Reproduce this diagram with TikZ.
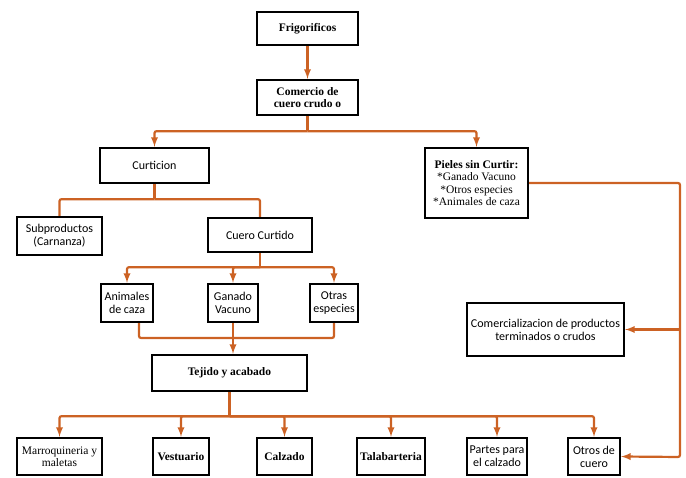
\documentclass[tikz,border=0pt]{standalone}
\usepackage{fontspec}
\setmainfont{Liberation Serif}
\newfontfamily\calfont{Carlito}
\usetikzlibrary{arrows}
\definecolor{flecha}{RGB}{204,98,36}

\begin{document}
\begin{tikzpicture}[x=1pt,y=-1pt,
    caja/.style={draw=black,line width=2.4pt,fill=white,align=center,inner sep=1pt,
      font=\fontsize{11.5}{12.5}\selectfont},
    cajab/.style={caja,font=\fontsize{11.5}{12.5}\selectfont\bfseries},
    cajas/.style={caja,font=\fontsize{12}{13}\selectfont\calfont},
    linea/.style={draw=flecha,line width=2.2pt,rounded corners=2pt},
    flec/.style={linea,-latex}]
          \useasboundingbox (0,0) rectangle (686,478);
          % cajas superiores
          \node[cajab,minimum width=101,minimum height=33] (frig) at (307.5,28.5) {Frigorificos};
          \node[cajab,minimum width=101,minimum height=35] (com) at (307.5,97.5) {Comercio de\\cuero crudo o};
          \node[cajas,minimum width=109,minimum height=35] (curt) at (154.5,165.5) {Curticion};
          \node[caja,minimum width=103,minimum height=70] (piel) at (476.5,183)
            {\textbf{Pieles sin Curtir:}\\*Ganado Vacuno\\*Otros especies\\*Animales de caza};
          \node[cajas,minimum width=85,minimum height=38] (subp) at (59.5,236) {Subproductos\\(Carnanza)};
          \node[cajas,minimum width=104,minimum height=34] (cuer) at (260,235) {Cuero Curtido};
          % especies
          \node[cajas,minimum width=52,minimum height=38] (anim) at (127,303) {Animales\\de caza};
          \node[cajas,minimum width=50,minimum height=38] (gana) at (233,303) {Ganado\\Vacuno};
          \node[cajas,minimum width=48,minimum height=38] (otra) at (334,303) {Otras\\especies};
          \node[cajab,minimum width=155,minimum height=36] (teji) at (229.5,373) {Tejido y acabado};
          \node[cajas,minimum width=157,minimum height=53] (comz) at (545.5,329.5)
            {Comercializacion de productos\\terminados o crudos};
          % productos
          \node[caja,minimum width=85,minimum height=37] (marr) at (59.5,456.5) {Marroquineria y\\maletas};
          \node[cajab,minimum width=56,minimum height=37] (vest) at (181,456.5) {Vestuario};
          \node[cajab,minimum width=55,minimum height=37] (calz) at (284.5,456.5) {Calzado};
          \node[cajab,minimum width=68,minimum height=37] (tala) at (391,456.5) {Talabarteria};
          \node[cajas,minimum width=60,minimum height=37] (part) at (497,456.5) {Partes para\\el calzado};
          \node[cajas,minimum width=52,minimum height=37] (otrc) at (594,456.5) {Otros de\\cuero};
          % conectores
          \draw[flec] (frig) -- (com);
          \draw[linea] (com.south) -- ++(0,15) coordinate (j1);
          \draw[flec] (j1) -| (curt.north);
          \draw[flec] (j1) -| (piel.north);
          \draw[linea] (curt.south) -- ++(0,15) coordinate (j2);
          \draw[linea] (j2) -| (subp.north);
          \draw[linea] (j2) -| (cuer.north);
          \draw[linea] (cuer.south) -- ++(0,14) coordinate (j3);
          \foreach \n in {anim,gana,otra} \draw[flec] (j3) -| (\n.north);
          \coordinate (j4) at (233,338);
          \draw[linea] ([xshift=12]anim.south) |- (j4) -| (otra.south);
          \draw[flec] (gana.south) -- (gana.south |- teji.north);
          \draw[linea] (teji.south) -- ++(0,24) coordinate (j5);
          \foreach \n in {marr,vest,calz,tala,part,otrc} \draw[flec] (j5) -| (\n.north);
          \coordinate (der) at (680,457);
          \draw[flec] (piel.east) -| (der) -- (otrc.east);
          \draw[flec] (der |- comz.east) -- (comz.east);
\end{tikzpicture}
\end{document}
